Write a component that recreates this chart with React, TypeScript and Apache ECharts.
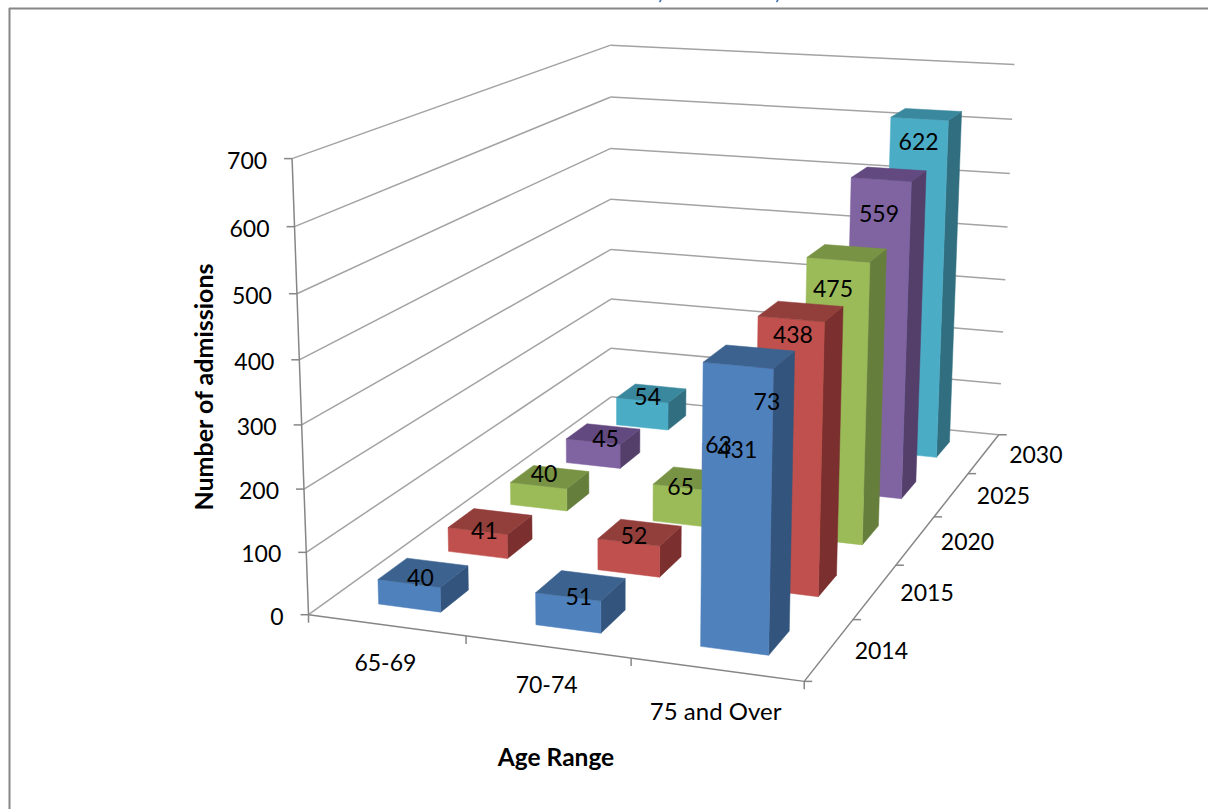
import React, { useEffect, useRef } from "react";
import * as echarts from "echarts";

const ageRanges = ["65-69", "70-74", "75 and Over"];
const years = ["2014", "2015", "2020", "2025", "2030"];
const valueTicks = [0, 100, 200, 300, 400, 500, 600, 700];
const VALUE_MAX = 700;

const values6569 = [40, 41, 40, 45, 54];
const values7074 = [51, 52, 65, 63, 73];
const values75up = [431, 438, 475, 559, 622];
const seriesByAge = [values6569, values7074, values75up];

const faceFront = ["#4F81BD", "#C0504D", "#9BBB59", "#8064A2", "#4BACC6"];
const faceTop = ["#3C6390", "#923F3C", "#789344", "#62497F", "#3A889E"];
const faceSide = ["#33547C", "#7B2F2E", "#667E3C", "#543F6A", "#316F80"];

// label nudge from the projected centre of each bar's top, as Excel placed them [age][year]
const labelNudge = [
  [[-2, 5], [-5, 9], [-5, -4], [3, 4], [-3, 3]],
  [[-1, 11], [-5, 3], [-11, 7], [-20, 6], [-14, 5]],
  [[-11, 92], [-7, 23], [-13, 35], [-9, 39], [-7, 27]],
];

// camera calibration: [u, v, w, px, py] of the chart box corners and ticks
const calibration = [
  [0, 0, 0, 309, 615], [0, 0, 1 / 7, 307, 552], [0, 0, 2 / 7, 304, 489], [0, 0, 3 / 7, 302, 425],
  [0, 0, 4 / 7, 299, 360], [0, 0, 5 / 7, 297, 293], [0, 0, 6 / 7, 294, 226], [0, 0, 1, 292, 159],
  [0, 1, 0, 610, 397], [0, 1, 1 / 7, 611, 348], [0, 1, 2 / 7, 611, 299], [0, 1, 5 / 7, 611, 150],
  [0, 1, 6 / 7, 611, 97], [0, 1, 1, 611, 44],
  [1, 1, 0, 999, 434], [1, 1, 1 / 7, 1002, 384], [1, 1, 2 / 7, 1004, 332], [1, 1, 3 / 7, 1005, 280],
  [1, 1, 4 / 7, 1007, 227], [1, 1, 5 / 7, 1010, 174], [1, 1, 6 / 7, 1012, 119], [1, 1, 1, 1014, 65],
  [1, 0, 0, 804, 682], [1, 0.2, 0, 853, 619], [1, 0.4, 0, 896, 565], [1, 0.6, 0, 933, 517], [1, 0.8, 0, 968, 473],
  [1 / 3, 0, 0, 466, 636], [2 / 3, 0, 0, 631, 659],
];

function solve(A: number[][], b: number[]) {
  const n = b.length;
  const M = A.map((r, i) => [...r, b[i]]);
  for (let c = 0; c < n; c++) {
    let p = c;
    for (let r = c + 1; r < n; r++) if (Math.abs(M[r][c]) > Math.abs(M[p][c])) p = r;
    [M[c], M[p]] = [M[p], M[c]];
    for (let r = 0; r < n; r++) {
      if (r === c) continue;
      const f = M[r][c] / M[c][c];
      for (let k = c; k <= n; k++) M[r][k] -= f * M[c][k];
    }
  }
  return M.map((r, i) => r[n] / r[i]);
}

function fitCamera() {
  const rows: number[][] = [];
  const rhs: number[] = [];
  for (const [u, v, w, px, py] of calibration) {
    const x = px / 1000;
    const y = py / 1000;
    rows.push([u, v, w, 1, 0, 0, 0, 0, -x * u, -x * v, -x * w]);
    rhs.push(x);
    rows.push([0, 0, 0, 0, u, v, w, 1, -y * u, -y * v, -y * w]);
    rhs.push(y);
  }
  const N = 11;
  const AtA = Array.from({ length: N }, (_, i) =>
    Array.from({ length: N }, (_, j) => rows.reduce((s, r) => s + r[i] * r[j], 0))
  );
  const Atb = Array.from({ length: N }, (_, i) => rows.reduce((s, r, k) => s + r[i] * rhs[k], 0));
  return solve(AtA, Atb);
}

const cam = fitCamera();
function project(u: number, v: number, w: number): [number, number] {
  const d = cam[8] * u + cam[9] * v + cam[10] * w + 1;
  return [
    (1000 * (cam[0] * u + cam[1] * v + cam[2] * w + cam[3])) / d,
    (1000 * (cam[4] * u + cam[5] * v + cam[6] * w + cam[7])) / d,
  ];
}

const FONT = "Lato, sans-serif";
const AXIS_FS = 23;
const GRID = "#a3a3a3";
const TICK = "#868686";

const line = (a: number[], b: number[], stroke: string, lineWidth = 1.5) => ({
  type: "line",
  silent: true,
  shape: { x1: a[0], y1: a[1], x2: b[0], y2: b[1] },
  style: { stroke, lineWidth, fill: "none" },
});
const label = (text: string, x: number, y: number, align = "center", size = AXIS_FS, weight = "normal") => ({
  type: "text",
  silent: true,
  x,
  y,
  style: {
    text,
    fontFamily: FONT,
    fontSize: size,
    fontWeight: weight,
    fill: "#000000",
    align,
    verticalAlign: "middle",
    textAlign: align,
    textVerticalAlign: "middle",
  },
});

const barRows: number[][] = [];
for (let y = years.length - 1; y >= 0; y--) {
  for (let c = 0; c < ageRanges.length; c++) barRows.push([c, y, seriesByAge[c][y]]);
}
const HALF_U = 0.4 / 3 / 2;
const HALF_V = 0.4 / 5 / 2;
const centreU = (c: number) => (c + 0.5) / ageRanges.length;
const centreV = (y: number) => (y + 0.5) / years.length;
const BAR_SHIFT_U = 0.002;
const ageLabelDrop = [37, 37, 41];
const ageLabelSize = [23, 23, 24];

function renderGrid(_: any, api: any) {
  const val = api.value(0);
  const w = val / VALUE_MAX;
  const a = project(0, 0, w);
  const b = project(0, 1, w);
  const c = project(1, 1, w);
  return {
    type: "group",
    children: [
      line(a, b, GRID),
      line(b, c, GRID),
      line([a[0] - 8, a[1]], a, TICK),
      label(String(val), a[0] - 25, a[1] + 1, "right"),
    ],
  };
}

function renderAxes() {
  const A = project(0, 0, 0);
  const T = project(0, 0, 1);
  const B = project(1, 0, 0);
  const C = project(1, 1, 0);
  return {
    type: "group",
    children: [line(A, T, TICK), line(A, B, TICK), line(B, C, TICK)],
  };
}

function renderAgeAxis(params: any) {
  const i = params.dataIndex;
  const p = project(centreU(i), 0, 0);
  const kids: any[] = [label(ageRanges[i], p[0] - 1, p[1] + ageLabelDrop[i], "center", ageLabelSize[i])];
  const t = project(i / ageRanges.length, 0, 0);
  kids.push(line(t, [t[0], t[1] + 8], TICK));
  if (i === ageRanges.length - 1) {
    const e = project(1, 0, 0);
    kids.push(line(e, [e[0], e[1] + 8], TICK));
  }
  return { type: "group", children: kids };
}

function renderYearAxis(params: any) {
  const i = params.dataIndex;
  const p = project(1, centreV(i), 0);
  const t = project(1, i / years.length, 0);
  const kids: any[] = [label(years[i], p[0] + 52, p[1] + 0.5), line(t, [t[0] + 8, t[1]], TICK)];
  if (i === years.length - 1) {
    const e = project(1, 1, 0);
    kids.push(line(e, [e[0] + 8, e[1]], TICK));
  }
  return { type: "group", children: kids };
}

function renderBar(_: any, api: any) {
  const c = api.value(0);
  const y = api.value(1);
  const w = api.value(2) / VALUE_MAX;
  const u0 = centreU(c) - HALF_U + BAR_SHIFT_U;
  const u1 = centreU(c) + HALF_U + BAR_SHIFT_U;
  const v0 = centreV(y) - HALF_V;
  const v1 = centreV(y) + HALF_V;
  const face = (pts: number[][], fill: string) => ({
    type: "polygon",
    silent: true,
    shape: { points: pts },
    style: { fill, stroke: fill, lineWidth: 0.5 },
  });
  return {
    type: "group",
    children: [
      face([project(u1, v0, 0), project(u1, v1, 0), project(u1, v1, w), project(u1, v0, w)], faceSide[y]),
      face([project(u0, v0, 0), project(u1, v0, 0), project(u1, v0, w), project(u0, v0, w)], faceFront[y]),
      face([project(u0, v0, w), project(u1, v0, w), project(u1, v1, w), project(u0, v1, w)], faceTop[y]),
    ],
  };
}

function renderValueLabel(_: any, api: any) {
  const c = api.value(0);
  const y = api.value(1);
  const val = api.value(2);
  const p = project(centreU(c), centreV(y), val / VALUE_MAX);
  const [dx, dy] = labelNudge[c][y];
  return label(String(val), p[0] + dx, p[1] + dy);
}

function renderTitles() {
  const yTitle: any = label("Number of admissions", 0, 0, "center", 25, "bold");
  yTitle.x = 202.5;
  yTitle.y = 387;
  yTitle.rotation = Math.PI / 2;
  return {
    type: "group",
    children: [yTitle, label("Age Range", 556, 756.5, "center", 24.5, "bold")],
  };
}

export default function App() {
  const ref = useRef<HTMLDivElement>(null);
  useEffect(() => {
    const chart = echarts.init(ref.current!, null, { renderer: "svg" });
    const custom = (data: any[], renderItem: any, z: number) => ({
      type: "custom",
      coordinateSystem: "none",
      silent: true,
      z,
      data,
      renderItem,
    });
    chart.setOption({
      animation: false,
      backgroundColor: "#ffffff",
      graphic: [
        { type: "line", silent: true, shape: { x1: 9, y1: 8.5, x2: 1208, y2: 8.5 }, style: { stroke: "#868686", lineWidth: 2 } },
        { type: "line", silent: true, shape: { x1: 9.5, y1: 8, x2: 9.5, y2: 809 }, style: { stroke: "#868686", lineWidth: 2 } },
        { type: "line", silent: true, shape: { x1: 661, y1: 0, x2: 659.5, y2: 2 }, style: { stroke: "#3a6aa5", lineWidth: 1.6 } },
        { type: "line", silent: true, shape: { x1: 778, y1: 0, x2: 776.5, y2: 2 }, style: { stroke: "#3a6aa5", lineWidth: 1.6 } },
      ],
      series: [
        custom(valueTicks.map((v) => [v]), renderGrid, 1),
        custom([[0]], renderAxes, 2),
        custom(ageRanges.map((_, i) => [i]), renderAgeAxis, 2),
        custom(years.map((_, i) => [i]), renderYearAxis, 2),
        custom(barRows, renderBar, 3),
        custom(barRows, renderValueLabel, 4),
        custom([[0]], renderTitles, 4),
      ],
    });
    return () => chart.dispose();
  }, []);
  return <div ref={ref} style={{ position: "absolute", left: 0, top: 0, width: 1208, height: 809 }} />;
}
